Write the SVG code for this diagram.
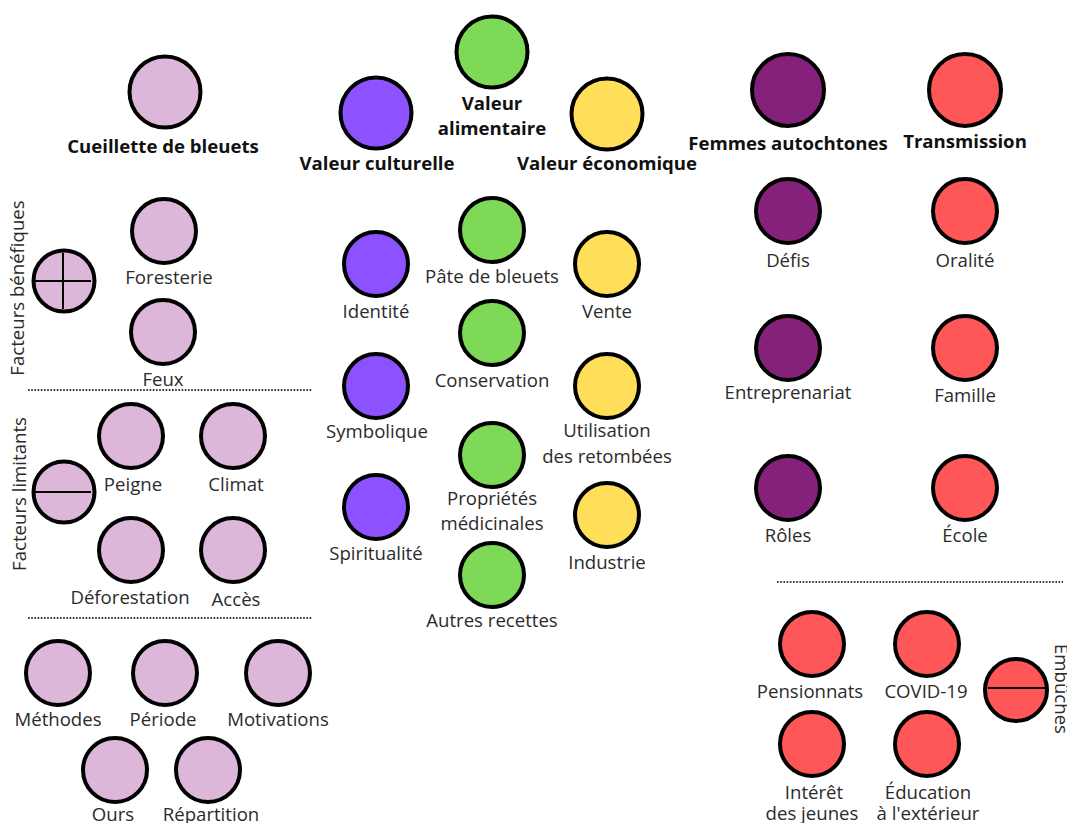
<svg xmlns="http://www.w3.org/2000/svg" width="1067" height="823" viewBox="0 0 1067 823">
  <style>
    circle { stroke: #000; stroke-width: 4; }
    .lilac { fill: #DDB7DA; }
    .violet { fill: #8C52FF; }
    .green { fill: #7ED957; }
    .yellow { fill: #FFDE59; }
    .plum { fill: #85207B; }
    .red { fill: #FF5757; }
    text { font-family: "Open Sans", "Noto Sans", "Liberation Sans", sans-serif; font-size: 18.6px; fill: #2b2b2b; text-anchor: middle; }
    text.head { font-weight: bold; fill: #111; }
    .sym { stroke: #000; stroke-width: 2; fill: none; }
    .sep { stroke: #333; stroke-width: 2; stroke-dasharray: 1.6 1.6; fill: none; }
  </style>
  <rect width="1067" height="823" fill="#fff"/>

  <!-- section dividers -->
  <g id="separators">
    <line class="sep" x1="28" y1="390" x2="312" y2="390"/>
    <line class="sep" x1="28" y1="618" x2="312" y2="618"/>
    <line class="sep" x1="777" y1="582" x2="1063" y2="582"/>
  </g>

  <!-- side captions -->
  <g id="captions">
    <text transform="translate(24 288) rotate(-90)">Facteurs bénéfiques</text>
    <text transform="translate(26 494) rotate(-90)">Facteurs limitants</text>
    <text transform="translate(1055 689) rotate(90)">Embûches</text>
  </g>

  <!-- harvesting column -->
  <g id="cueillette"><circle class="lilac" cx="165" cy="92" r="35.5"/><text class="head" x="163" y="153">Cueillette de bleuets</text></g>
  <g id="benefiques"><circle class="lilac" cx="64" cy="281" r="30.5"/><path class="sym" d="M35 281H91M63 253V309"/></g>
  <g id="foresterie"><circle class="lilac" cx="164" cy="231" r="32"/><text x="169" y="284">Foresterie</text></g>
  <g id="feux"><circle class="lilac" cx="163" cy="332" r="32"/><text x="163" y="386">Feux</text></g>
  <g id="limitants"><circle class="lilac" cx="64" cy="492" r="30.5"/><path class="sym" d="M35 492H91"/></g>
  <g id="peigne"><circle class="lilac" cx="131" cy="436" r="32"/><text x="133" y="491">Peigne</text></g>
  <g id="climat"><circle class="lilac" cx="233" cy="436" r="32"/><text x="236" y="491">Climat</text></g>
  <g id="deforestation"><circle class="lilac" cx="131" cy="550" r="32"/><text x="130" y="604">Déforestation</text></g>
  <g id="acces"><circle class="lilac" cx="233" cy="550" r="32"/><text x="236" y="606">Accès</text></g>
  <g id="methodes"><circle class="lilac" cx="58" cy="673" r="32"/><text x="58" y="726">Méthodes</text></g>
  <g id="periode"><circle class="lilac" cx="165" cy="673" r="32"/><text x="163" y="726">Période</text></g>
  <g id="motivations"><circle class="lilac" cx="278" cy="673" r="32"/><text x="278" y="726">Motivations</text></g>
  <g id="ours"><circle class="lilac" cx="115" cy="770" r="32"/><text x="113" y="821">Ours</text></g>
  <g id="repartition"><circle class="lilac" cx="208" cy="770" r="32"/><text x="211" y="821">Répartition</text></g>

  <!-- values: cultural / food / economic -->
  <g id="valeur-culturelle"><circle class="violet" cx="376" cy="113" r="35.5"/><text class="head" x="377" y="170">Valeur culturelle</text></g>
  <g id="valeur-alimentaire"><circle class="green" cx="492" cy="52" r="35.5"/><text class="head" x="492" y="110">Valeur</text><text class="head" x="492" y="135">alimentaire</text></g>
  <g id="valeur-economique"><circle class="yellow" cx="607" cy="114" r="35.5"/><text class="head" x="607" y="170">Valeur économique</text></g>

  <g id="identite"><circle class="violet" cx="376" cy="264" r="32"/><text x="376" y="318">Identité</text></g>
  <g id="symbolique"><circle class="violet" cx="376" cy="386" r="32"/><text x="377" y="438">Symbolique</text></g>
  <g id="spiritualite"><circle class="violet" cx="376" cy="507" r="32"/><text x="376" y="560">Spiritualité</text></g>

  <g id="pate"><circle class="green" cx="492" cy="230" r="32"/><text x="492" y="283">Pâte de bleuets</text></g>
  <g id="conservation"><circle class="green" cx="492" cy="333" r="32"/><text x="492" y="387">Conservation</text></g>
  <g id="proprietes"><circle class="green" cx="492" cy="455" r="32"/><text x="492" y="505">Propriétés</text><text x="492" y="530">médicinales</text></g>
  <g id="recettes"><circle class="green" cx="492" cy="575" r="32"/><text x="492" y="627">Autres recettes</text></g>

  <g id="vente"><circle class="yellow" cx="607" cy="264" r="32"/><text x="607" y="318">Vente</text></g>
  <g id="retombees"><circle class="yellow" cx="607" cy="386" r="32"/><text x="607" y="437">Utilisation</text><text x="607" y="463">des retombées</text></g>
  <g id="industrie"><circle class="yellow" cx="607" cy="515" r="32"/><text x="607" y="569">Industrie</text></g>

  <!-- women -->
  <g id="femmes"><circle class="plum" cx="788" cy="90" r="36"/><text class="head" x="788" y="150">Femmes autochtones</text></g>
  <g id="defis"><circle class="plum" cx="788" cy="211" r="32"/><text x="788" y="267">Défis</text></g>
  <g id="entreprenariat"><circle class="plum" cx="788" cy="348" r="32"/><text x="788" y="399">Entreprenariat</text></g>
  <g id="roles"><circle class="plum" cx="788" cy="488" r="32"/><text x="788" y="542">Rôles</text></g>

  <!-- transmission -->
  <g id="transmission"><circle class="red" cx="965" cy="90" r="36"/><text class="head" x="965" y="148">Transmission</text></g>
  <g id="oralite"><circle class="red" cx="965" cy="211" r="32"/><text x="965" y="267">Oralité</text></g>
  <g id="famille"><circle class="red" cx="965" cy="348" r="32"/><text x="965" y="402">Famille</text></g>
  <g id="ecole"><circle class="red" cx="965" cy="488" r="32"/><text x="965" y="542">École</text></g>

  <g id="pensionnats"><circle class="red" cx="812" cy="644" r="32"/><text x="810" y="698">Pensionnats</text></g>
  <g id="covid"><circle class="red" cx="927" cy="644" r="32"/><text x="926" y="698">COVID-19</text></g>
  <g id="embuches"><circle class="red" cx="1016" cy="690" r="31"/><path class="sym" d="M988 688H1045"/></g>
  <g id="interet"><circle class="red" cx="812" cy="744" r="32"/><text x="814" y="799">Intérêt</text><text x="812" y="820">des jeunes</text></g>
  <g id="education"><circle class="red" cx="927" cy="744" r="32"/><text x="928" y="799">Éducation</text><text x="928" y="820">à l'extérieur</text></g>
</svg>
